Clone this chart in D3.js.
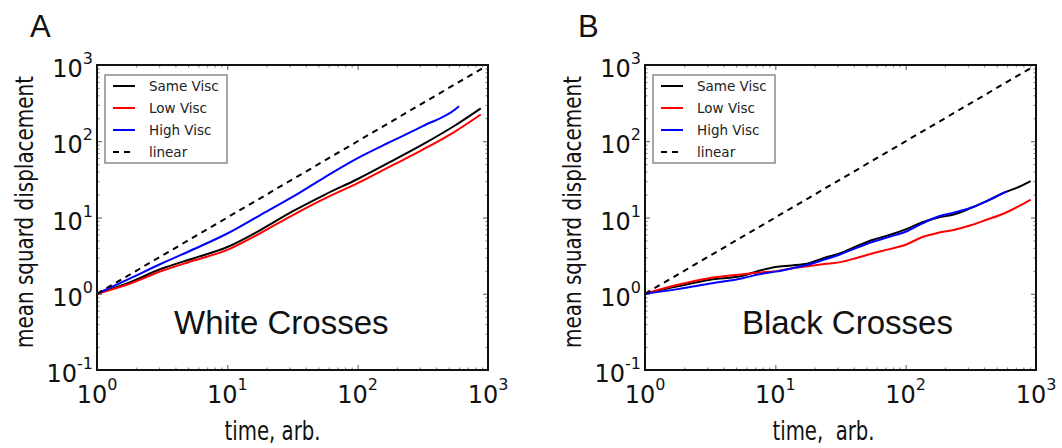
<!DOCTYPE html>
<html>
<head>
<meta charset="utf-8">
<script src="https://cdn.jsdelivr.net/npm/d3@7"></script>
<style>
  body { margin: 0; background: #fff; }
  svg { display: block; }
</style>
</head>
<body>
<script>
// Mean squared displacement, two log-log panels

const w = 1062;
const h = 448;

// tick values and their exponent labels
const xTicks = [1, 10, 100, 1000];
const xExps = ["0", "1", "2", "3"];
const yTicks = [0.1, 1, 10, 100, 1000];
const yExps = ["-1", "0", "1", "2", "3"];

const seriesNames = ["Same Visc", "Low Visc", "High Visc", "linear"];

// panel A: white crosses
const timeA = [1, 1.78, 3.16, 5.62, 10, 17.8, 31.6, 56.2, 100, 178, 316, 562, 880];
const sameA = [1, 1.41, 2.14, 2.95, 4.1, 6.8, 12.0, 20.0, 32, 53.7, 91, 162, 270];
const lowA  = [1, 1.35, 2.0, 2.75, 3.76, 6.2, 10.7, 17.8, 28.2, 46.8, 77.6, 135, 224];
const timeHighA = [1, 1.78, 3.16, 5.62, 10, 17.8, 31.6, 56.2, 100, 178, 316, 562, 599];
const highA = [1, 1.58, 2.51, 3.89, 6.17, 10.7, 18.6, 33.9, 60, 98, 158, 263, 288];

// panel B: black crosses
const timeB = [1, 1.78, 3.16, 5.62, 7.5, 10, 13.3, 17.8, 23.7, 31.6, 42, 56.2, 75, 100, 133, 178, 237, 316, 422, 562, 750, 910];
const sameB = [1, 1.25, 1.53, 1.72, 2.0, 2.25, 2.35, 2.5, 2.95, 3.4, 4.2, 5.1, 5.9, 7.0, 8.6, 10.0, 11.0, 13.3, 16.5, 21.0, 25.5, 30];
const lowB  = [1, 1.31, 1.61, 1.80, 1.9, 1.97, 2.15, 2.3, 2.45, 2.6, 2.95, 3.4, 3.85, 4.4, 5.5, 6.3, 6.9, 7.9, 9.4, 11.2, 14.3, 17.1];
const timeHighB = [1, 1.78, 3.16, 5.62, 7.5, 10, 13.3, 17.8, 23.7, 31.6, 42, 56.2, 75, 100, 133, 178, 237, 316, 422, 597];
const highB = [1, 1.15, 1.36, 1.6, 1.8, 1.95, 2.15, 2.4, 2.8, 3.3, 4.0, 4.8, 5.6, 6.5, 8.3, 10.3, 11.6, 13.4, 16.5, 22];

// reference slope-1 line
const linearTime = [1, 900];
const linearVal = [1, 900];

const colors = ["#000000", "#ff0000", "#0000ff", "#000000"];

const svg = d3.select("body")
  .append("svg")
  .attr("width", w)
  .attr("height", h);

const plotTop = 65, plotBottom = 370, pw = 391;

const panels = [
  { letter: "A", x0: 97, title: "White Crosses", titleDx: 77, xLabel: "time, arb.", xLabelDx: -20, xLabelLen: 96,
    series: [[timeA, sameA], [timeA, lowA], [timeHighA, highA]] },
  { letter: "B", x0: 645, title: "Black Crosses", titleDx: 97, xLabel: "time,\u00a0 arb.", xLabelDx: -17, xLabelLen: 102,
    series: [[timeB, sameB], [timeB, lowB], [timeHighB, highB]] }
];

const minorX = [];
[1, 10, 100].forEach(d => { for (let k = 2; k < 10; k++) minorX.push(d * k); });
const minorY = [];
[0.1, 1, 10, 100].forEach(d => { for (let k = 2; k < 10; k++) minorY.push(d * k); });

function expText(sel, exp) {
  sel.append("tspan").text("10");
  sel.append("tspan").attr("font-size", 16).attr("dy", -13).text(exp);
}

panels.forEach(p => {
  const x = d3.scaleLog().domain([1, 1000]).range([p.x0, p.x0 + pw]);
  const y = d3.scaleLog().domain([0.1, 1000]).range([plotBottom, plotTop]);
  const g = svg.append("g");

  // tick marks, all pointing inward
  const tickAxes = [
    [d3.axisBottom(x), `translate(0,${plotBottom})`, xTicks, minorX],
    [d3.axisTop(x), `translate(0,${plotTop})`, xTicks, minorX],
    [d3.axisLeft(y), `translate(${p.x0},0)`, yTicks, minorY],
    [d3.axisRight(y), `translate(${p.x0 + pw},0)`, yTicks, minorY]
  ];
  tickAxes.forEach(([ax, tr, major, minor]) => {
    g.append("g").attr("transform", tr)
      .call(ax.tickValues(major).tickSize(-5).tickFormat(""))
      .call(s => s.select(".domain").remove())
      .call(s => s.selectAll("line").attr("stroke", "#555"));
    g.append("g").attr("transform", tr)
      .call(ax.tickValues(minor).tickSize(-2.5).tickFormat(""))
      .call(s => s.select(".domain").remove())
      .call(s => s.selectAll("line").attr("stroke", "#777"));
  });

  // tick labels
  g.selectAll(".xl").data(xTicks).enter().append("text")
    .attr("x", d => x(d)).attr("y", 403)
    .attr("text-anchor", "middle")
    .attr("font-family", "DejaVu Sans").attr("font-size", 24).attr("fill", "#111")
    .each(function(d, i) { expText(d3.select(this), xExps[i]); });

  g.selectAll(".yl").data(yTicks).enter().append("text")
    .attr("x", p.x0 - 4).attr("y", d => y(d) + 12)
    .attr("text-anchor", "end")
    .attr("font-family", "DejaVu Sans").attr("font-size", 24).attr("fill", "#111")
    .each(function(d, i) { expText(d3.select(this), yExps[i]); });

  // data lines
  const line = d3.line().x(d => x(d[0])).y(d => y(d[1])).curve(d3.curveMonotoneX);
  p.series.forEach(([t, v], i) => {
    g.append("path")
      .datum(t.map((tt, j) => [tt, v[j]]))
      .attr("d", line)
      .attr("fill", "none")
      .attr("stroke", colors[i])
      .attr("stroke-width", 2)
      .attr("stroke-linejoin", "round");
  });
  g.append("path")
    .datum(linearTime.map((tt, j) => [tt, linearVal[j]]))
    .attr("d", line)
    .attr("fill", "none")
    .attr("stroke", colors[3])
    .attr("stroke-width", 2)
    .attr("stroke-dasharray", "6,5");

  // frame
  g.append("rect")
    .attr("x", p.x0).attr("y", plotTop)
    .attr("width", pw).attr("height", plotBottom - plotTop)
    .attr("fill", "none").attr("stroke", "#111").attr("stroke-width", 2);

  // legend
  const lx = p.x0 + 8, ly = 75;
  g.append("rect")
    .attr("x", lx).attr("y", ly).attr("width", 122).attr("height", 88)
    .attr("fill", "#fff").attr("stroke", "#8a8a8a").attr("stroke-width", 1.5);
  seriesNames.forEach((name, i) => {
    const yy = ly + 11 + i * 22;
    g.append("line")
      .attr("x1", lx + 8).attr("x2", lx + 30)
      .attr("y1", yy).attr("y2", yy)
      .attr("stroke", colors[i]).attr("stroke-width", 2)
      .attr("stroke-dasharray", i === 3 ? "6,5" : null);
    g.append("text")
      .attr("x", lx + 44).attr("y", yy + 5)
      .attr("font-family", "DejaVu Sans").attr("font-size", 13.5).attr("fill", "#222")
      .text(name);
  });

  // in-plot title
  g.append("text")
    .attr("x", p.x0 + p.titleDx).attr("y", 334)
    .attr("font-family", "Liberation Sans, Arial").attr("font-size", 33).attr("fill", "#111")
    .text(p.title);

  // axis titles
  g.append("text")
    .attr("x", p.x0 + pw / 2 + p.xLabelDx).attr("y", 440)
    .attr("text-anchor", "middle")
    .attr("font-family", "Liberation Sans Narrow, DejaVu Sans Condensed").attr("font-size", 27)
    .attr("textLength", p.xLabelLen).attr("lengthAdjust", "spacingAndGlyphs")
    .attr("fill", "#111")
    .text(p.xLabel);

  g.append("text")
    .attr("transform", `translate(${p.x0 - 64},212) rotate(-90)`)
    .attr("text-anchor", "middle")
    .attr("font-family", "Liberation Sans Narrow, DejaVu Sans Condensed").attr("font-size", 24)
    .attr("textLength", 272).attr("lengthAdjust", "spacingAndGlyphs")
    .attr("fill", "#111")
    .text("mean squard displacement");

  // panel letter
  g.append("text")
    .attr("x", p.x0 - 67).attr("y", 37)
    .attr("font-family", "Liberation Sans, Arial").attr("font-size", 31).attr("fill", "#111")
    .text(p.letter);
});
</script>
</body>
</html>
